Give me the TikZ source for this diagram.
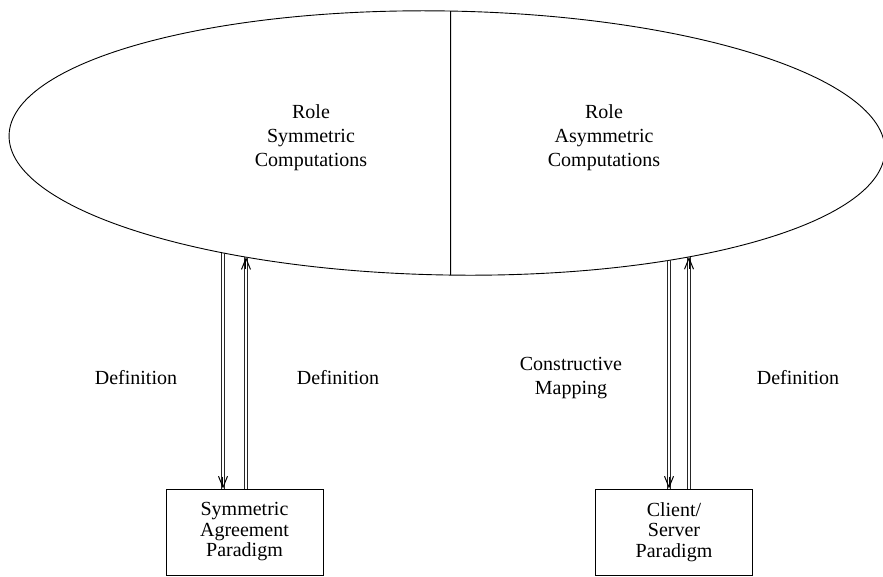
\documentclass[tikz,border=0pt]{standalone}
\usepackage{fontspec}
\setmainfont{Liberation Serif}
\usetikzlibrary{shapes.geometric,intersections,calc,arrows.meta}
\begin{document}
\begin{tikzpicture}[x=1pt,y=-1pt,
  lbl/.style={font=\fontsize{20}{24}\selectfont, align=center, inner sep=0},
  paradigm/.style={draw, line width=0.9pt, minimum width=157pt, minimum height=86pt,
    align=center, font=\fontsize{20}{20.5}\selectfont, inner sep=0},
  rail/.style={line width=0.9pt, draw=black!85},
  barb/.style={line width=1pt, draw=black, -{Straight Barb[length=11pt,width=9pt]}},
]
\useasboundingbox (0,0) rectangle (883,576);

% the universe of computations, split into two halves
\draw[line width=0.9pt, rotate around={-1:(447,143)}, name path=ell]
  (447,143) ellipse [x radius=438, y radius=132];
\coordinate (E) at (447,143);
\path[name path=vd] (450.5,-20) -- (450.5,320);
\path[name intersections={of=ell and vd, by={dtop,dbot}, sort by=vd}];
\draw[line width=1pt] (dtop) -- (dbot);

\node[lbl] (sym) at (311,138) {Role\\Symmetric\\Computations};
\node[lbl] (asym) at (604,138) {Role\\Asymmetric\\Computations};

% the two paradigms
\node[paradigm] (B1) at (244.5,532) {Symmetric\\Agreement\\Paradigm};
\node[paradigm] (B2) at (674,532) {Client/\\Server\\Paradigm};

% feet of the links on the ellipse border
\path[name path=va] (223,150) -- (223,420);
\path[name path=vb] (246,150) -- (246,420);
\path[name path=vc] (669,150) -- (669,420);
\path[name path=ve] (689,150) -- (689,420);
\path[name intersections={of=ell and va, by={ta}}];
\path[name intersections={of=ell and vb, by={tb}}];
\path[name intersections={of=ell and vc, by={tc}}];
\path[name intersections={of=ell and ve, by={td}}];
\coordinate (ba) at (B1.north -| ta);
\coordinate (bb) at (B1.north -| tb);
\coordinate (bc) at (B2.north -| tc);
\coordinate (bd) at (B2.north -| td);

% each link: two close parallel strokes and an open barb at its head
\foreach \s/\e in {ta/ba, bb/tb, tc/bc, bd/td}{
  \draw[rail] ($(\s)+(-1.1,0)$) -- ($(\e)+(-1.1,0)$);
  \draw[rail] ($(\s)+(1.1,0)$) -- ($(\e)+(1.1,0)$);
  \draw[barb] ($(\e)!12pt!(\s)$) -- (\e);
}

\node[lbl] (l1) at (136,378) {Definition};
\node[lbl] (l2) at (338,378) {Definition};
\node[lbl] (l3) at (571,378) {Constructive\\Mapping};
\node[lbl] (l4) at (798,378) {Definition};
\end{tikzpicture}
\end{document}
